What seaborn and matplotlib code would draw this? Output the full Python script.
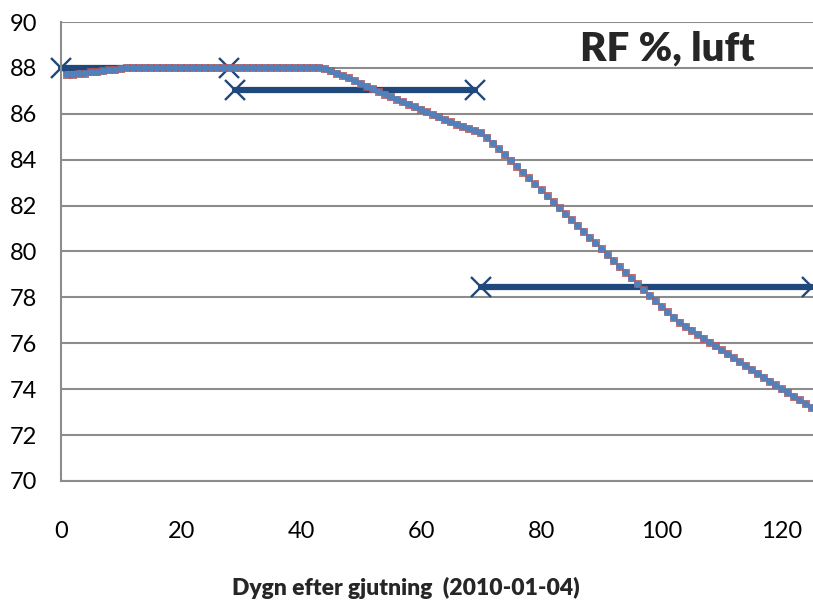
import matplotlib
matplotlib.use("Agg")
import matplotlib.pyplot as plt
import numpy as np
import pandas as pd
import seaborn as sns

# ── Data ───────────────────────────────────────────────────────────────────
days = list(range(1, 126))
rf_air = [
    87.70, 87.70, 87.75, 87.75, 87.80, 87.80, 87.85, 87.90, 87.90, 87.95,   # 1-10
    88.00, 88.00, 88.00, 88.00, 88.00, 88.00, 88.00, 88.00, 88.00, 88.00,   # 11-20
    88.00, 88.00, 88.00, 88.00, 88.00, 88.00, 88.00, 88.00, 88.00, 88.00,   # 21-30
    88.00, 88.00, 88.00, 88.00, 88.00, 88.00, 88.00, 88.00, 88.00, 88.00,   # 31-40
    88.00, 88.00, 88.00, 87.95, 87.85, 87.75, 87.65, 87.55, 87.42, 87.30,   # 41-50
    87.18, 87.07, 86.95, 86.84, 86.73, 86.62, 86.51, 86.40, 86.29, 86.18,   # 51-60
    86.06, 85.95, 85.84, 85.73, 85.63, 85.52, 85.43, 85.34, 85.25, 85.15,   # 61-70
    84.95, 84.70, 84.45, 84.20, 83.95, 83.70, 83.44, 83.18, 82.92, 82.66,   # 71-80
    82.40, 82.14, 81.88, 81.62, 81.37, 81.12, 80.86, 80.60, 80.35, 80.10,   # 81-90
    79.84, 79.58, 79.33, 79.08, 78.83, 78.57, 78.32, 78.07, 77.82, 77.58,   # 91-100
    77.35, 77.12, 76.90, 76.72, 76.55, 76.38, 76.20, 76.03, 75.86, 75.69,   # 101-110
    75.52, 75.35, 75.18, 75.01, 74.84, 74.67, 74.50, 74.33, 74.16, 73.99,   # 111-120
    73.83, 73.67, 73.51, 73.35, 73.19,                                      # 121-125
]

# horizontal period means (start day, end day, level)
seg_start = [0, 29, 70]
seg_end = [28, 69, 125]
seg_level = [88.0, 87.05, 78.45]

title_text = "RF %, luft"
xlabel_text = "Dygn efter gjutning  (2010-01-04)"
x_ticks = [0, 20, 40, 60, 80, 100, 120]
y_ticks = [70, 72, 74, 76, 78, 80, 82, 84, 86, 88, 90]

# ── Style ──────────────────────────────────────────────────────────────────
sns.set_theme(style="white")
plt.rcParams["font.family"] = ["Lato", "DejaVu Sans"]

GRID = "#8c8c8c"
BLUE = "#4F81BD"
RED = "#C0504D"
NAVY = "#1F497D"

df = pd.DataFrame({"dygn": days, "rf": rf_air})
seg_df = pd.DataFrame({
    "dygn": seg_start + seg_end,
    "rf": seg_level + seg_level,
    "seg": list(range(len(seg_start))) * 2,
})

fig, ax = plt.subplots(figsize=(8.13, 6.03), dpi=100)
fig.subplots_adjust(left=0.075, right=1.0, bottom=0.2025, top=0.9635)

for y in y_ticks:
    ax.axhline(y, color=GRID, lw=1.5, zorder=0)

sns.lineplot(data=seg_df, x="dygn", y="rf", units="seg", estimator=None,
             color=NAVY, lw=4.5, marker="x", markersize=15, mew=1.7,
             mec=NAVY, clip_on=False, zorder=2, ax=ax)

sns.scatterplot(data=df, x="dygn", y="rf", marker="s", s=38, color=RED,
                edgecolor=RED, linewidth=0, alpha=0.8, zorder=3, ax=ax)
sns.scatterplot(data=df, x="dygn", y="rf", marker="o", s=26, color=BLUE,
                edgecolor="none", zorder=4, ax=ax)

ax.set_xlim(0, 125.2)
ax.set_ylim(70, 90)
ax.set_xticks(x_ticks)
ax.set_yticks(y_ticks)
ax.grid(False)

for side in ["top", "right"]:
    ax.spines[side].set_visible(False)
for side in ["left", "bottom"]:
    ax.spines[side].set_color(GRID)
    ax.spines[side].set_linewidth(1.5)

ax.tick_params(axis="both", which="major", direction="out", length=6,
               width=1.2, color=GRID, labelsize=17, labelcolor="black")
ax.tick_params(axis="y", pad=11)
ax.tick_params(axis="x", pad=23)
ax.set_xlabel(xlabel_text, fontsize=16.5, fontweight="heavy", labelpad=25)
ax.xaxis.label.set_x(0.459)   # label is centred on the figure, not the axes
ax.set_ylabel("")

ax.text(0.69, 0.917, title_text, transform=ax.transAxes, ha="left",
        va="baseline", fontsize=29, fontweight="heavy")

fig.savefig("out.png", dpi=100)
